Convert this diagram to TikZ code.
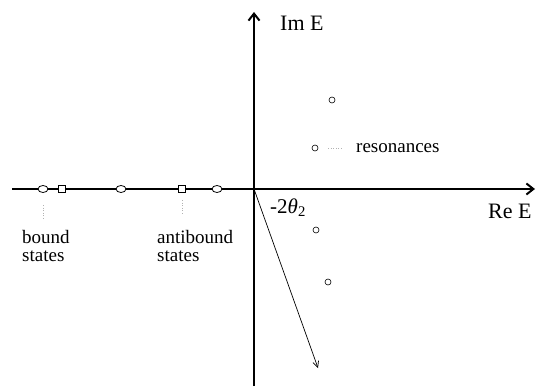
\documentclass[tikz,border=0pt]{standalone}
\usepackage{fontspec}
\setmainfont{Liberation Serif}
\usetikzlibrary{arrows.meta,shapes.geometric}
\begin{document}
\begin{tikzpicture}[x=1pt,y=-1pt,
  axis/.style={line width=2pt,-{Straight Barb[length=7pt,width=11pt,line width=2pt]}},
  pole/.style={draw,ellipse,line width=0.8pt,fill=white,minimum width=10pt,minimum height=7pt,inner sep=0pt},
  sq/.style={draw,rectangle,line width=0.8pt,fill=white,minimum size=6.5pt,inner sep=0pt},
  res/.style={draw,circle,line width=0.6pt,minimum size=6pt,inner sep=0pt},
  lbl/.style={font=\fontsize{19}{18}\selectfont,inner sep=0pt},
  axlbl/.style={font=\fontsize{22}{22}\selectfont,inner sep=0pt},
  lead/.style={gray!60,dotted,line width=0.6pt}]
\useasboundingbox (0,0) rectangle (537,387);
\coordinate (O) at (254,189);
\coordinate (xl) at (12,189);
\coordinate (xr) at (535,189);
\coordinate (yb) at (254,386);
\coordinate (yt) at (254,12);
\draw[axis] (xl) -- (xr);
\draw[axis] (yb) -- (yt);
% real-axis poles
\node[pole] (b1) at (43,189) {};
\node[sq] (b2) at (62,189) {};
\node[pole] (b3) at (121,189) {};
\node[sq] (a1) at (182,189) {};
\node[pole] (a2) at (217,189) {};
% resonances
\node[res] (r1) at (332,100) {};
\node[res] (r2) at (315,148) {};
\node[res] (r3) at (316,230) {};
\node[res] (r4) at (328,282) {};
% labels
\node[lbl,anchor=west,align=left] (bs) at (22,246) {bound\\states};
\node[lbl,anchor=west,align=left] (as) at (157,246) {antibound\\states};
\node[lbl,anchor=west] (rs) at (356,148) {resonances};
\node[axlbl,anchor=west] (im) at (280,23) {Im E};
\node[axlbl,anchor=west] (re) at (488,211) {Re E};
\node[anchor=west,inner sep=0pt,font=\fontsize{21}{21}\selectfont] (th) at (270,208) {-2\textit{θ}\textsubscript{2}};
% leaders
\coordinate (lb1) at (43,205); \coordinate (lb2) at (43,220);
\coordinate (la1) at (182,200); \coordinate (la2) at (182,215);
\coordinate (lr1) at (328,148); \coordinate (lr2) at (343,148);
\draw[lead] (lb1) -- (lb2);
\draw[lead] (la1) -- (la2);
\draw[lead] (lr1) -- (lr2);
% rotated contour direction
\coordinate (ar) at (318,368);
\draw[line width=0.7pt,-{Straight Barb[length=6pt,width=6pt,line width=0.7pt]}] (O) -- (ar);
\end{tikzpicture}
\end{document}
